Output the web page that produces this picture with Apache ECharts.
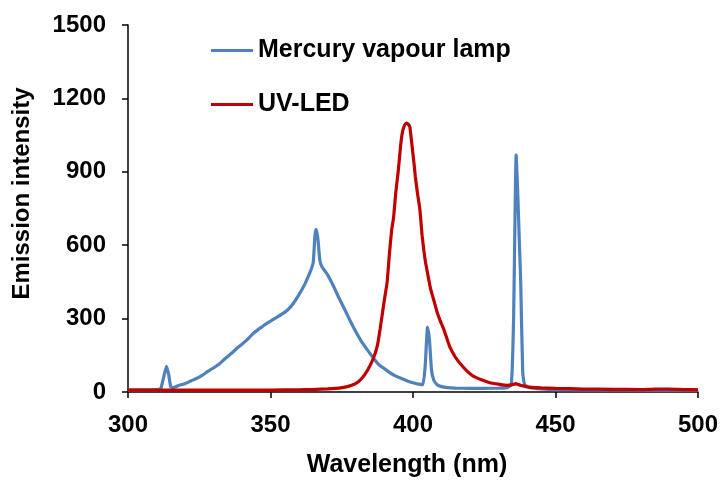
<!DOCTYPE html>
<html>
<head>
<meta charset="utf-8">
<script src="https://cdn.jsdelivr.net/npm/echarts@6/dist/echarts.min.js"></script>
<style>
html,body{margin:0;padding:0;background:#fff;}
#chart{width:721px;height:483px;}
</style>
</head>
<body>
<div id="chart"></div>
<script>
// Data
const seriesNames = ['Mercury vapour lamp', 'UV-LED'];
const xTicks = [300, 350, 400, 450, 500];
const yTicks = [0, 300, 600, 900, 1200, 1500];

const mercuryWavelength = [300,305,310,311.5,312.5,313.5,314.3,315,316,318,320,322,324,326,328,330,332,334,336,338,340,342,344,346,348,350,352,354,356,358,360,362,364,365,365.6,366,366.6,367.3,368,370,372,374,376,378,380,382,384,386,388,390,392,394,396,398,400,402,403.5,404.3,405.1,405.8,406.5,407.3,408.5,410,412,415,420,425,430,433,434.5,435.3,436.2,436.8,437.3,437.8,438.5,439.2,441,445,450,460,470,480,490,500];
const mercuryIntensity = [8,9,10,15,60,105,70,22,18,28,34,45,55,68,84,98,114,136,155,176,195,216,240,258,275,290,304,318,335,362,398,440,493,530,640,665,630,540,513,480,435,385,338,290,245,205,172,140,112,95,78,65,55,45,38,32,30,110,265,210,90,48,30,22,18,16,15,15,16,18,30,300,969,800,620,450,80,30,18,13,10,9,9,8,8,8];

const ledWavelength = [300,310,320,330,340,350,360,365,370,374,377,380,382,384,386,387.5,388.5,390,390.9,391.7,392.5,393.2,394,394.8,395.6,396.2,397,397.7,398.3,398.9,399.7,400.4,400.8,401.6,402.4,403.2,403.8,404.4,405.2,406.1,407.3,408.5,409.6,411,413,415,417,419,421,424,427,430,433,435,436,437,440,445,450,460,470,480,485,490,495,500];
const ledIntensity = [8,8,8,8,8,8,9,10,13,16,22,35,55,88,135,190,260,380,446,560,660,714,820,900,1000,1056,1090,1099,1095,1083,1003,930,882,810,748,640,580,530,480,426,375,325,290,250,182,140,110,85,66,50,38,32,27,30,34,30,21,17,15,12,11,10,12,12,10,9];

const mercuryData = mercuryWavelength.map((w, i) => [w, mercuryIntensity[i]]);
const ledData = ledWavelength.map((w, i) => [w, ledIntensity[i]]);

const FONT = "'Liberation Sans', Arial, sans-serif";
const chart = echarts.init(document.getElementById('chart'));
const legendText = {fontFamily: FONT, fontWeight: 'bold', fontSize: 25, color: '#000', lineHeight: 25};
chart.setOption({
  animation: false,
  backgroundColor: '#fff',
  grid: {left: 128, right: 23, top: 25, bottom: 85, containLabel: false},
  legend: [
    {data: [seriesNames[0]], left: 206, top: 33, padding: 5, orient: 'vertical', icon: 'rect', itemWidth: 42, itemHeight: 3, textStyle: legendText},
    {data: [seriesNames[1]], left: 206, top: 87, padding: 5, orient: 'vertical', icon: 'rect', itemWidth: 42, itemHeight: 3, textStyle: legendText}
  ],
  xAxis: {
    type: 'value',
    min: xTicks[0], max: xTicks[xTicks.length - 1], interval: 50,
    name: 'Wavelength (nm)', nameLocation: 'middle', nameGap: 61,
    nameTextStyle: {fontFamily: FONT, fontWeight: 'bold', fontSize: 25, color: '#000', padding: [0, 12, 0, 0]},
    axisLine: {lineStyle: {color: '#000', width: 1.5}},
    axisTick: {inside: false, length: 6, lineStyle: {color: '#000', width: 1.5}},
    axisLabel: {margin: 21, fontFamily: FONT, fontWeight: 'bold', fontSize: 24, color: '#000'},
    splitLine: {show: false}
  },
  yAxis: {
    type: 'value',
    min: yTicks[0], max: yTicks[yTicks.length - 1], interval: 300,
    name: 'Emission intensity', nameLocation: 'middle', nameGap: 94, nameRotate: 90,
    nameTextStyle: {fontFamily: FONT, fontWeight: 'bold', fontSize: 24, color: '#000', padding: [0, 0, 0, 30]},
    axisLine: {show: true, lineStyle: {color: '#000', width: 1.5}},
    axisTick: {show: true, inside: false, length: 6, lineStyle: {color: '#000', width: 1.5}},
    axisLabel: {margin: 22, fontFamily: FONT, fontWeight: 'bold', fontSize: 24, color: '#000', formatter: (v) => String(v)},
    splitLine: {show: false}
  },
  series: [
    {name: seriesNames[0], type: 'line', data: mercuryData, symbol: 'none', smooth: 0.15,
     lineStyle: {color: '#4F81BD', width: 3.2}, itemStyle: {color: '#4F81BD'}},
    {name: seriesNames[1], type: 'line', data: ledData, symbol: 'none', smooth: 0.15,
     lineStyle: {color: '#C00000', width: 3.2}, itemStyle: {color: '#C00000'}}
  ]
});
</script>
</body>
</html>
